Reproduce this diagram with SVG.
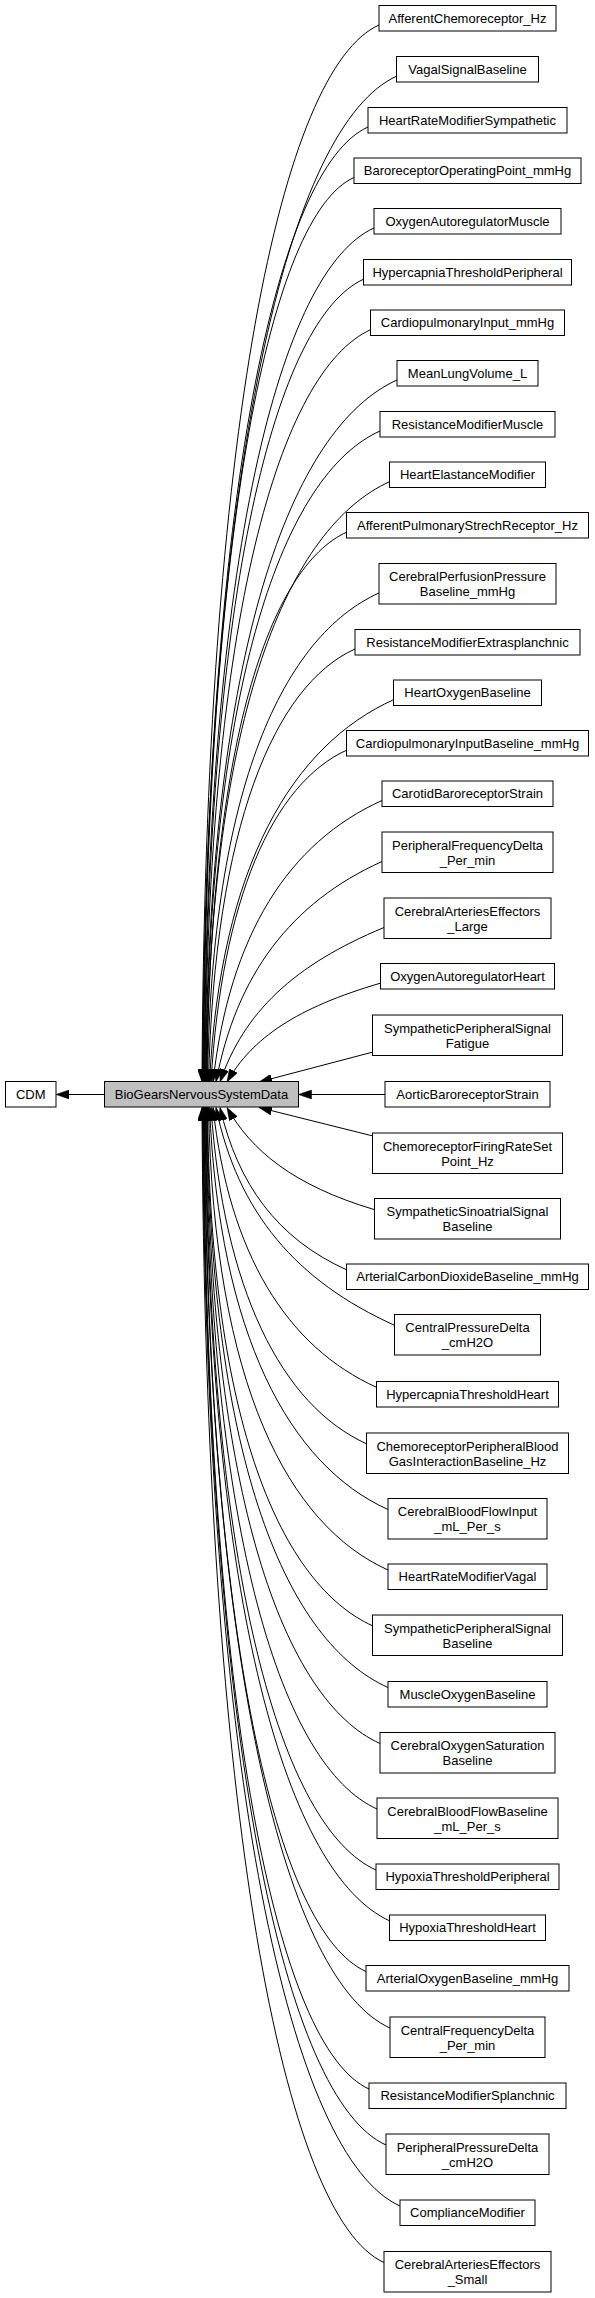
<svg xmlns="http://www.w3.org/2000/svg" width="595" height="2298" viewBox="0 0 595 2298">
<style>
.nd rect{fill:#fff;stroke:#000;stroke-width:1}
.nd.hl rect{fill:#bfbfbf}
.nd text{font-family:"Liberation Sans",Arial,Helvetica,sans-serif;font-size:13px;text-anchor:middle;fill:#000}
#edges path{fill:none;stroke:#000;stroke-width:1;marker-end:url(#ah)}
</style>
<defs>
<marker id="ah" viewBox="0 0 13 9" refX="13" refY="4.5" markerWidth="13" markerHeight="9" markerUnits="userSpaceOnUse" orient="auto"><path d="M0,0 L13,4.5 L0,9 z" fill="#000" stroke="#000" stroke-width="0.5"/></marker>
</defs>
<rect width="595" height="2298" fill="#fff"/>
<g id="edges">
<path d="M104.5,1094.5 L56,1094.5"/>
<path d="M379,25 C281.6,68.8 205,426.7 202,1082"/>
<path d="M397,76 C290,124.1 205.8,458.3 202.5,1082"/>
<path d="M368,127 C277.3,167.8 205.8,489.9 203,1082"/>
<path d="M354,177.5 C271.2,214.7 206.1,521.2 203.5,1082"/>
<path d="M374,228 C280.5,270.1 206.9,552.5 204,1082"/>
<path d="M364,279 C276.3,318.5 207.2,584.1 204.5,1082"/>
<path d="M371,329.5 C279.7,370.6 207.8,615.4 205,1082"/>
<path d="M397,380 C291.7,427.4 208.8,646.8 205.5,1082"/>
<path d="M380,431 C284.3,474.1 209,678.4 206,1082"/>
<path d="M390,481.5 C289.1,526.9 209.6,709.7 206.5,1082"/>
<path d="M347,532 C270,566.7 209.4,741 207,1082"/>
<path d="M379,593 C284.7,635.4 211.4,785.3 207.5,1082"/>
<path d="M355,649 C274.4,685.3 214.6,826.3 208.5,1082"/>
<path d="M394,699.5 C292.5,745.2 220.6,864.7 209.5,1082"/>
<path d="M347,750 C272.2,783.7 221.7,900.7 211,1082"/>
<path d="M382,800.5 C289,842.3 229.4,934.5 213,1082"/>
<path d="M382,861.5 C290.7,902.6 236.1,975.3 216,1082"/>
<path d="M384,927.5 C293.8,964.9 243.8,1012.3 220,1082"/>
<path d="M381,983 C296.3,1007.8 252.2,1038 227,1082"/>
<path d="M373,1052 L259,1082"/>
<path d="M385,1094.5 L298.5,1094.5"/>
<path d="M373,1136 L259,1107.5"/>
<path d="M374,1209.5 C293.1,1185.3 251.2,1150.4 227,1107.5"/>
<path d="M347,1270 C277.1,1238.6 237.8,1184.1 220,1107.5"/>
<path d="M395,1325.5 C296.5,1281.2 237.8,1212.7 216,1107.5"/>
<path d="M377,1387.5 C286.8,1346.9 229,1254 213,1107.5"/>
<path d="M367,1444 C281.2,1405.4 223.3,1288.5 211,1107.5"/>
<path d="M388,1509.5 C289.8,1465.3 219.3,1335.7 209.5,1107.5"/>
<path d="M388,1570 C289.3,1525.6 214,1386.6 208.5,1107.5"/>
<path d="M373,1626 C282,1585 210.3,1425.9 207.5,1107.5"/>
<path d="M388,1687.5 C288.4,1642.7 210.1,1467.1 207,1107.5"/>
<path d="M380,1743.5 C284.6,1700.6 209.4,1498.7 206.5,1107.5"/>
<path d="M377,1809 C283,1766.7 208.9,1539.3 206,1107.5"/>
<path d="M376,1870 C282.2,1827.8 208.4,1580.3 205.5,1107.5"/>
<path d="M390,1921 C288.3,1875.2 208.1,1611.9 205,1107.5"/>
<path d="M366,1971.5 C277.2,1931.5 207.2,1643.2 204.5,1107.5"/>
<path d="M390,2028 C287.7,1982 207.2,1675.1 204,1107.5"/>
<path d="M369,2089 C278,2048 206.3,1716 203.5,1107.5"/>
<path d="M386,2145 C285.3,2099.7 206.1,1747.7 203,1107.5"/>
<path d="M400,2206 C291.4,2157.1 205.9,1788.6 202.5,1107.5"/>
<path d="M384,2262.5 C283.9,2217.5 205.1,1820.5 202,1107.5"/>
</g>
<g id="n_CDM" class="nd"><rect x="5.5" y="1081.5" width="50.5" height="25.5"/><text x="30.75" y="1098.5">CDM</text></g>
<g id="n_BioGearsNervousSystemData" class="nd hl"><rect x="104.5" y="1081.5" width="194" height="25.5"/><text x="201.5" y="1098.5">BioGearsNervousSystemData</text></g>
<g id="n_AfferentChemoreceptor_Hz" class="nd"><rect x="379" y="5.5" width="177" height="25.5"/><text x="467.5" y="22.5">AfferentChemoreceptor_Hz</text></g>
<g id="n_VagalSignalBaseline" class="nd"><rect x="396.5" y="56.5" width="142" height="25.5"/><text x="467.5" y="73.5">VagalSignalBaseline</text></g>
<g id="n_HeartRateModifierSympathetic" class="nd"><rect x="368" y="107.5" width="199" height="25.5"/><text x="467.5" y="124.5">HeartRateModifierSympathetic</text></g>
<g id="n_BaroreceptorOperatingPoint_mmHg" class="nd"><rect x="354" y="158" width="227" height="25.5"/><text x="467.5" y="175">BaroreceptorOperatingPoint_mmHg</text></g>
<g id="n_OxygenAutoregulatorMuscle" class="nd"><rect x="374" y="208.5" width="187" height="25.5"/><text x="467.5" y="225.5">OxygenAutoregulatorMuscle</text></g>
<g id="n_HypercapniaThresholdPeripheral" class="nd"><rect x="363.5" y="259.5" width="208" height="25.5"/><text x="467.5" y="276.5">HypercapniaThresholdPeripheral</text></g>
<g id="n_CardiopulmonaryInput_mmHg" class="nd"><rect x="370.5" y="310" width="194" height="25.5"/><text x="467.5" y="327">CardiopulmonaryInput_mmHg</text></g>
<g id="n_MeanLungVolume_L" class="nd"><rect x="397" y="360.5" width="141" height="25.5"/><text x="467.5" y="377.5">MeanLungVolume_L</text></g>
<g id="n_ResistanceModifierMuscle" class="nd"><rect x="380" y="411.5" width="175" height="25.5"/><text x="467.5" y="428.5">ResistanceModifierMuscle</text></g>
<g id="n_HeartElastanceModifier" class="nd"><rect x="389.5" y="462" width="156" height="25.5"/><text x="467.5" y="479">HeartElastanceModifier</text></g>
<g id="n_AfferentPulmonaryStrechReceptor_Hz" class="nd"><rect x="346.5" y="512.5" width="242" height="25.5"/><text x="467.5" y="529.5">AfferentPulmonaryStrechReceptor_Hz</text></g>
<g id="n_CerebralPerfusionPressureBaseline_mmHg" class="nd"><rect x="379" y="563.5" width="177" height="40.5"/><text x="467.5" y="581">CerebralPerfusionPressure</text><text x="467.5" y="596">Baseline_mmHg</text></g>
<g id="n_ResistanceModifierExtrasplanchnic" class="nd"><rect x="355" y="629.5" width="225" height="25.5"/><text x="467.5" y="646.5">ResistanceModifierExtrasplanchnic</text></g>
<g id="n_HeartOxygenBaseline" class="nd"><rect x="393.5" y="680" width="148" height="25.5"/><text x="467.5" y="697">HeartOxygenBaseline</text></g>
<g id="n_CardiopulmonaryInputBaseline_mmHg" class="nd"><rect x="346.5" y="730.5" width="242" height="25.5"/><text x="467.5" y="747.5">CardiopulmonaryInputBaseline_mmHg</text></g>
<g id="n_CarotidBaroreceptorStrain" class="nd"><rect x="382" y="781" width="171" height="25.5"/><text x="467.5" y="798">CarotidBaroreceptorStrain</text></g>
<g id="n_PeripheralFrequencyDelta_Per_min" class="nd"><rect x="382" y="832" width="171" height="40.5"/><text x="467.5" y="849.5">PeripheralFrequencyDelta</text><text x="467.5" y="864.5">_Per_min</text></g>
<g id="n_CerebralArteriesEffectors_Large" class="nd"><rect x="384" y="898" width="167" height="40.5"/><text x="467.5" y="915.5">CerebralArteriesEffectors</text><text x="467.5" y="930.5">_Large</text></g>
<g id="n_OxygenAutoregulatorHeart" class="nd"><rect x="380.5" y="963.5" width="174" height="25.5"/><text x="467.5" y="980.5">OxygenAutoregulatorHeart</text></g>
<g id="n_SympatheticPeripheralSignalFatigue" class="nd"><rect x="372.5" y="1015" width="190" height="40.5"/><text x="467.5" y="1032.5">SympatheticPeripheralSignal</text><text x="467.5" y="1047.5">Fatigue</text></g>
<g id="n_AorticBaroreceptorStrain" class="nd"><rect x="385" y="1081.5" width="165" height="25.5"/><text x="467.5" y="1098.5">AorticBaroreceptorStrain</text></g>
<g id="n_ChemoreceptorFiringRateSetPoint_Hz" class="nd"><rect x="372.5" y="1133" width="190" height="40.5"/><text x="467.5" y="1150.5">ChemoreceptorFiringRateSet</text><text x="467.5" y="1165.5">Point_Hz</text></g>
<g id="n_SympatheticSinoatrialSignalBaseline" class="nd"><rect x="374.5" y="1198.5" width="186" height="40.5"/><text x="467.5" y="1216">SympatheticSinoatrialSignal</text><text x="467.5" y="1231">Baseline</text></g>
<g id="n_ArterialCarbonDioxideBaseline_mmHg" class="nd"><rect x="346.5" y="1264" width="242" height="25.5"/><text x="467.5" y="1281">ArterialCarbonDioxideBaseline_mmHg</text></g>
<g id="n_CentralPressureDelta_cmH2O" class="nd"><rect x="394.5" y="1314.5" width="146" height="40.5"/><text x="467.5" y="1332">CentralPressureDelta</text><text x="467.5" y="1347">_cmH2O</text></g>
<g id="n_HypercapniaThresholdHeart" class="nd"><rect x="376.5" y="1381.5" width="182" height="25.5"/><text x="467.5" y="1398.5">HypercapniaThresholdHeart</text></g>
<g id="n_ChemoreceptorPeripheralBloodGasInteractionBaseline_Hz" class="nd"><rect x="366.5" y="1433" width="202" height="40.5"/><text x="467.5" y="1450.5">ChemoreceptorPeripheralBlood</text><text x="467.5" y="1465.5">GasInteractionBaseline_Hz</text></g>
<g id="n_CerebralBloodFlowInput_mL_Per_s" class="nd"><rect x="388" y="1498.5" width="159" height="40.5"/><text x="467.5" y="1516">CerebralBloodFlowInput</text><text x="467.5" y="1531">_mL_Per_s</text></g>
<g id="n_HeartRateModifierVagal" class="nd"><rect x="388" y="1564" width="159" height="25.5"/><text x="467.5" y="1581">HeartRateModifierVagal</text></g>
<g id="n_SympatheticPeripheralSignalBaseline" class="nd"><rect x="372.5" y="1615" width="190" height="40.5"/><text x="467.5" y="1632.5">SympatheticPeripheralSignal</text><text x="467.5" y="1647.5">Baseline</text></g>
<g id="n_MuscleOxygenBaseline" class="nd"><rect x="388" y="1681.5" width="159" height="25.5"/><text x="467.5" y="1698.5">MuscleOxygenBaseline</text></g>
<g id="n_CerebralOxygenSaturationBaseline" class="nd"><rect x="380" y="1732.5" width="175" height="40.5"/><text x="467.5" y="1750">CerebralOxygenSaturation</text><text x="467.5" y="1765">Baseline</text></g>
<g id="n_CerebralBloodFlowBaseline_mL_Per_s" class="nd"><rect x="377" y="1798" width="181" height="40.5"/><text x="467.5" y="1815.5">CerebralBloodFlowBaseline</text><text x="467.5" y="1830.5">_mL_Per_s</text></g>
<g id="n_HypoxiaThresholdPeripheral" class="nd"><rect x="376" y="1864" width="183" height="25.5"/><text x="467.5" y="1881">HypoxiaThresholdPeripheral</text></g>
<g id="n_HypoxiaThresholdHeart" class="nd"><rect x="389.5" y="1915" width="156" height="25.5"/><text x="467.5" y="1932">HypoxiaThresholdHeart</text></g>
<g id="n_ArterialOxygenBaseline_mmHg" class="nd"><rect x="366" y="1965.5" width="203" height="25.5"/><text x="467.5" y="1982.5">ArterialOxygenBaseline_mmHg</text></g>
<g id="n_CentralFrequencyDelta_Per_min" class="nd"><rect x="390" y="2017" width="155" height="40.5"/><text x="467.5" y="2034.5">CentralFrequencyDelta</text><text x="467.5" y="2049.5">_Per_min</text></g>
<g id="n_ResistanceModifierSplanchnic" class="nd"><rect x="369" y="2083" width="197" height="25.5"/><text x="467.5" y="2100">ResistanceModifierSplanchnic</text></g>
<g id="n_PeripheralPressureDelta_cmH2O" class="nd"><rect x="386" y="2134" width="163" height="40.5"/><text x="467.5" y="2151.5">PeripheralPressureDelta</text><text x="467.5" y="2166.5">_cmH2O</text></g>
<g id="n_ComplianceModifier" class="nd"><rect x="400" y="2200" width="135" height="25.5"/><text x="467.5" y="2217">ComplianceModifier</text></g>
<g id="n_CerebralArteriesEffectors_Small" class="nd"><rect x="384" y="2251.5" width="167" height="40.5"/><text x="467.5" y="2269">CerebralArteriesEffectors</text><text x="467.5" y="2284">_Small</text></g>
</svg>
